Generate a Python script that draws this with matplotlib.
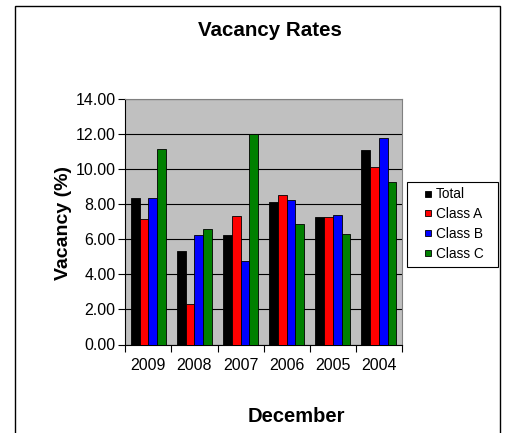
import matplotlib
matplotlib.use("Agg")
import matplotlib.pyplot as plt
import numpy as np
from matplotlib.patches import Rectangle
from matplotlib.lines import Line2D

years = ["2009", "2008", "2007", "2006", "2005", "2004"]
total = [8.34, 5.31, 6.23, 8.15, 7.26, 11.09]
class_a = [7.14, 2.29, 7.33, 8.51, 7.26, 10.15]
class_b = [8.34, 6.23, 4.76, 8.25, 7.41, 11.81]
class_c = [11.16, 6.59, 12.00, 6.88, 6.30, 9.26]
series_names = ["Total", "Class A", "Class B", "Class C"]
colors = ["#000000", "#FF0000", "#0000FF", "#008000"]

plt.rcParams['font.family'] = ['Liberation Sans', 'DejaVu Sans']

W, H = 508, 433
fig = plt.figure(figsize=(W/100, H/100), dpi=100)
fig.patches.append(Rectangle((15/W, -0.1), (500-15)/W, 1 - 6/H + 0.1,
                             transform=fig.transFigure, fill=False,
                             edgecolor='black', linewidth=1.0))

ax = fig.add_axes([125.3/W, 1-344.5/H, (402-125.3)/W, (344.5-99.3)/H])
ax.set_facecolor('#C0C0C0')

x = np.arange(len(years))
w = 0.19
data = [total, class_a, class_b, class_c]
for i, (vals, c, n) in enumerate(zip(data, colors, series_names)):
    ax.bar(x + (i - 1.5) * w, vals, w, color=c, edgecolor='black',
           linewidth=0.6, label=n, zorder=3)

ax.set_xlim(-0.5, len(years) - 0.5)
ax.set_ylim(0, 14)
yt = np.arange(0, 14.01, 2)
ax.set_yticks(yt)
ax.set_yticklabels([f"{v:.2f}" for v in yt], fontsize=11.5)
ax.yaxis.grid(True, color='black', linewidth=0.8, zorder=1)
ax.set_axisbelow(True)

ax.set_xticks(x)
ax.set_xticklabels(years, fontsize=11.5)
ax.tick_params(axis='x', length=0, pad=10)
ax.set_xticks(np.arange(-0.5, len(years), 1), minor=True)
ax.tick_params(axis='x', which='minor', length=5, width=0.8, direction='out')
ax.tick_params(axis='y', length=5, width=0.8, direction='out', pad=2)

for s in ['top', 'right']:
    ax.spines[s].set_color('#808080')
    ax.spines[s].set_linewidth(0.8)
for s in ['left', 'bottom']:
    ax.spines[s].set_color('black')
    ax.spines[s].set_linewidth(0.8)

fig.text(270/W, 1-31/H, "Vacancy Rates", ha='center', va='center',
         fontsize=14.8, fontweight='bold')
fig.text(296.5/W, 1-416/H, "December", ha='center', va='center',
         fontsize=14.5, fontweight='bold')
fig.text(63/W, 1-223/H, "Vacancy (%)", ha='center', va='center',
         rotation=90, fontsize=14, fontweight='bold')

# legend frame
fig.patches.append(Rectangle((407/W, 1-267/H), (498-407)/W, (267-182)/H,
                             transform=fig.transFigure, facecolor='white',
                             edgecolor='black', linewidth=0.8, zorder=5))
handles = [Line2D([], [], marker='s', linestyle='none', markersize=4.5,
                  markerfacecolor=c, markeredgecolor='black',
                  markeredgewidth=0.6) for c in colors]
leg = fig.legend(handles=handles, labels=series_names,
                 loc='upper left', bbox_to_anchor=(424.6/W, 1-187.5/H),
                 fontsize=9.8, frameon=False,
                 handlelength=0.5, handletextpad=0.34,
                 labelspacing=0.42, borderpad=0, borderaxespad=0)
leg.set_zorder(6)

fig.savefig("out.png", dpi=100)
